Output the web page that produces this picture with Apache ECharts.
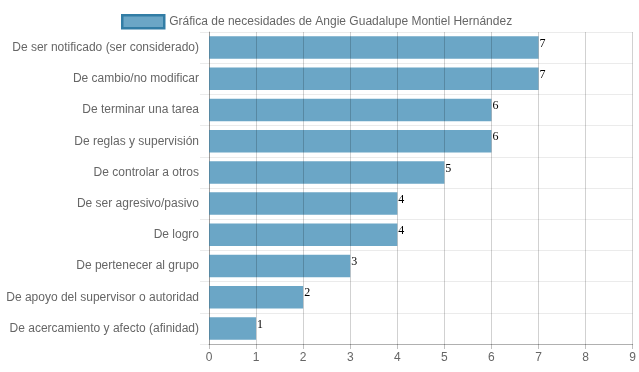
<!DOCTYPE html>
<html>
<head>
<meta charset="utf-8">
<script src="https://cdn.jsdelivr.net/npm/echarts@6/dist/echarts.min.js"></script>
<style>
html,body{margin:0;padding:0;background:#fff;}
#c{width:639px;height:372px;}
</style>
</head>
<body>
<div id="c"></div>
<script>
const seriesName = "Gráfica de necesidades de Angie Guadalupe Montiel Hernández";
const categories = [
  "De ser notificado (ser considerado)",
  "De cambio/no modificar",
  "De terminar una tarea",
  "De reglas y supervisión",
  "De controlar a otros",
  "De ser agresivo/pasivo",
  "De logro",
  "De pertenecer al grupo",
  "De apoyo del supervisor o autoridad",
  "De acercamiento y afecto (afinidad)"
];
const values = [7, 7, 6, 6, 5, 4, 4, 3, 2, 1];
const xTicks = [0, 1, 2, 3, 4, 5, 6, 7, 8, 9];

const chart = echarts.init(document.getElementById('c'), null, {renderer: 'canvas'});
const font = 'Liberation Sans, Arial, Helvetica, sans-serif';
chart.setOption({
  animation: false,
  legend: {
    top: 9,
    left: 116,
    icon: 'rect',
    itemWidth: 42,
    itemHeight: 13,
    itemGap: 10,
    textStyle: {fontFamily: font, fontSize: 12, color: '#666'},
    itemStyle: {borderColor: 'rgb(50,125,165)', borderWidth: 2.5},
    data: [seriesName]
  },
  grid: {left: 209, right: 6, top: 32, bottom: 28, containLabel: false},
  xAxis: {
    type: 'value',
    min: xTicks[0],
    max: xTicks[xTicks.length - 1],
    interval: 1,
    z: 3,
    axisLine: {show: true, lineStyle: {color: 'rgba(0,0,0,0.25)', width: 1}},
    axisTick: {show: true, length: 5, lineStyle: {color: 'rgba(0,0,0,0.25)'}},
    splitLine: {show: true, lineStyle: {color: 'rgba(0,0,0,0.18)', width: 1}},
    axisLabel: {fontFamily: font, fontSize: 12, color: '#666', margin: 8}
  },
  yAxis: {
    type: 'category',
    inverse: true,
    data: categories,
    axisLine: {show: true, lineStyle: {color: 'rgba(0,0,0,0.25)'}},
    axisTick: {show: true, length: 9, lineStyle: {color: 'rgba(0,0,0,0.08)'}},
    splitLine: {show: true, lineStyle: {color: 'rgba(0,0,0,0.08)'}},
    axisLabel: {fontFamily: font, fontSize: 12, color: '#666', margin: 10}
  },
  series: [{
    name: seriesName,
    type: 'bar',
    data: values,
    barCategoryGap: '28%',
    itemStyle: {color: 'rgb(107,166,198)'},
    label: {
      show: true,
      position: 'right',
      distance: 1,
      offset: [0, -4],
      fontFamily: 'Liberation Serif, Times New Roman, serif',
      fontSize: 12,
      color: '#000'
    }
  }]
});
</script>
</body>
</html>
